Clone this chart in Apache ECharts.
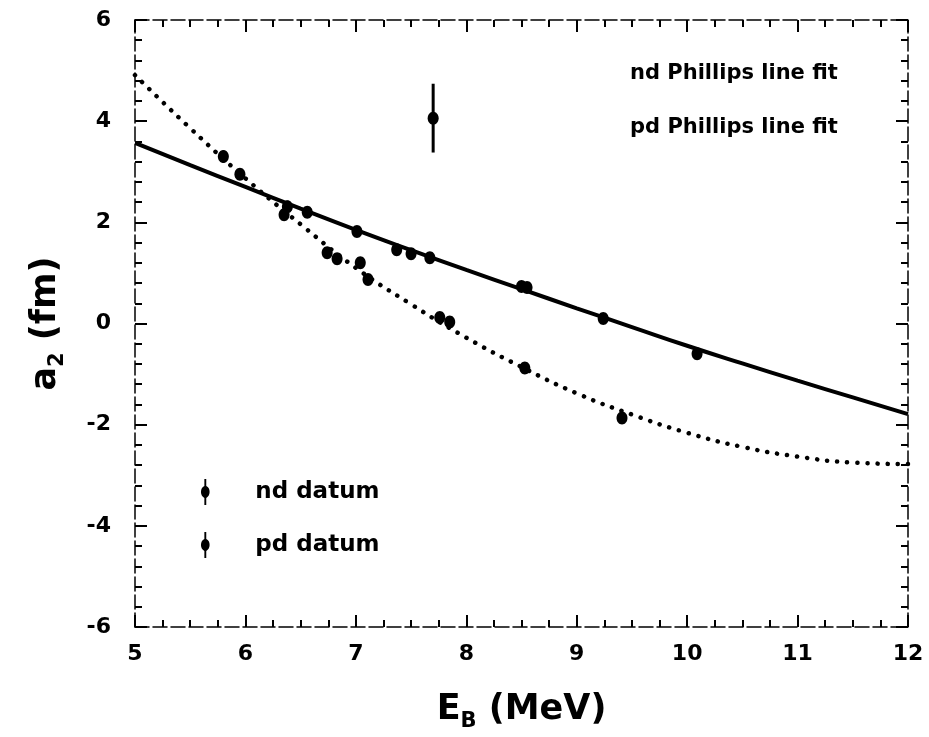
<!DOCTYPE html>
<html>
<head>
<meta charset="utf-8">
<script src="https://cdn.jsdelivr.net/npm/echarts@6/dist/echarts.min.js"></script>
<style>
  html, body { margin: 0; padding: 0; background: #fff; }
  #chart { width: 929px; height: 737px; }
</style>
</head>
<body>
<div id="chart"></div>
<script>
// fit curves (E_B in MeV, a2 in fm)
var ndFitE = [5, 5.5, 6, 6.5, 7, 7.5, 8, 8.5, 9, 9.5, 10, 10.5, 11, 11.5, 12]
var ndFitA = [3.57, 3.13, 2.70, 2.27, 1.85, 1.45, 1.06, 0.68, 0.30, -0.07, -0.44, -0.79, -1.13, -1.46, -1.79]
var pdFitE = [5, 5.5, 6, 6.5, 7, 7.5, 8, 8.5, 9, 9.5, 10, 10.5, 11, 11.5, 12]
var pdFitA = [4.91, 3.86, 2.87, 1.96, 1.10, 0.38, -0.28, -0.86, -1.38, -1.80, -2.16, -2.44, -2.63, -2.75, -2.78]

// data points with error bars
var ndE = [6.38, 6.56, 7.01, 7.37, 7.5, 7.67, 8.5, 8.55, 9.24, 10.09]
var ndA = [2.31, 2.2, 1.82, 1.46, 1.38, 1.3, 0.73, 0.71, 0.1, -0.6]
var ndErr = [0.12, 0.05, 0.06, 0.06, 0.05, 0.06, 0.08, 0.06, 0.06, 0.06]

var pdE = [5.8, 5.95, 6.35, 6.74, 6.83, 7.04, 7.11, 7.76, 7.85, 8.53, 9.41, 7.7]
var pdA = [3.3, 2.95, 2.15, 1.4, 1.28, 1.2, 0.87, 0.12, 0.03, -0.88, -1.87, 4.06]
var pdErr = [0.12, 0.08, 0.1, 0.1, 0.08, 0.08, 0.08, 0.08, 0.08, 0.06, 0.06, 0.68]

var xTicks = [5, 12, 1]
var yTicks = [-6, 6, 2]

function zip(a, b, c) {
  return a.map(function (v, i) { return c ? [v, b[i], c[i]] : [v, b[i]] })
}

var errIcon = 'path://M4.2,0H5.8V6C9.6,7.5 9.6,14.5 5.8,16V22H4.2V16C0.4,14.5 0.4,7.5 4.2,6Z'

function renderErr(params, api) {
  var x = api.value(0), y = api.value(1), e = api.value(2)
  var c = api.coord([x, y])
  var top = api.coord([x, y + e])
  var bot = api.coord([x, y - e])
  return {
    type: 'group',
    children: [
      { type: 'line', shape: { x1: c[0], y1: top[1], x2: c[0], y2: bot[1] },
        style: { stroke: '#000', lineWidth: 3 } },
      { type: 'ellipse', shape: { cx: c[0], cy: c[1], rx: 5.5, ry: 6.5 },
        style: { fill: '#000' } }
    ]
  }
}

var font = 'DejaVu Sans'
var axisCommon = {
  axisLine: { show: true, onZero: false, lineStyle: { color: '#000', width: 1.5, type: [14, 4] } },
  axisTick: { show: true, inside: true, length: 12, lineStyle: { color: '#000', width: 2 } },
  minorTick: { show: true, length: 7, lineStyle: { color: '#000', width: 2 } },
  splitLine: { show: false }
}

function xAxis(pos, labels) {
  return Object.assign({}, axisCommon, {
    type: 'value', position: pos,
    min: xTicks[0], max: xTicks[1], interval: xTicks[2],
    minorTick: Object.assign({}, axisCommon.minorTick, { splitNumber: 4 }),
    axisLabel: { show: labels, margin: 16, color: '#000', fontFamily: font, fontWeight: 'bold', fontSize: 22 }
  })
}
function yAxis(pos, labels) {
  return Object.assign({}, axisCommon, {
    type: 'value', position: pos,
    min: yTicks[0], max: yTicks[1], interval: yTicks[2],
    minorTick: Object.assign({}, axisCommon.minorTick, { splitNumber: 5 }),
    axisLabel: { show: labels, margin: 24, color: '#000', fontFamily: font, fontWeight: 'bold', fontSize: 22 }
  })
}

var nameStyle = {
  rich: {
    m: { fontFamily: font, fontWeight: 'bold', fontSize: 35, color: '#000' },
    s: { fontFamily: font, fontWeight: 'bold', fontSize: 21, color: '#000', padding: [24, 0, 0, 0] }
  }
}
var xBottom = xAxis('bottom', true)
xBottom.name = '{m|E}{s|B}{m| (MeV)}'
xBottom.nameLocation = 'middle'
xBottom.nameGap = 60
xBottom.nameTextStyle = nameStyle
var yLeft = yAxis('left', true)
yLeft.name = '{m|a}{s|2}{m| (fm)}'
yLeft.nameLocation = 'middle'
yLeft.nameGap = 67
yLeft.nameTextStyle = nameStyle

var chart = echarts.init(document.getElementById('chart'))
chart.setOption({
  animation: false,
  backgroundColor: '#fff',
  grid: { left: 135, right: 21, top: 20, bottom: 109 },
  xAxis: [xBottom, xAxis('top', false)],
  yAxis: [yLeft, yAxis('right', false)],
  legend: [
    {
      orient: 'vertical', left: 619, top: 58, itemGap: 33,
      itemWidth: 1, itemHeight: 10, icon: 'none',
      textStyle: { fontFamily: font, fontWeight: 'bold', fontSize: 21, color: '#000' },
      data: ['nd Phillips line fit', 'pd Phillips line fit']
    },
    {
      orient: 'vertical', left: 196, top: 474, itemGap: 27,
      itemWidth: 14, itemHeight: 26, icon: errIcon,
      itemStyle: { color: '#000' },
      textStyle: { fontFamily: font, fontWeight: 'bold', fontSize: 23, color: '#000', padding: [0, 0, 0, 38] },
      data: ['nd datum', 'pd datum']
    }
  ],
  series: [
    {
      name: 'nd Phillips line fit', type: 'line', smooth: true, showSymbol: false,
      color: '#000', lineStyle: { color: '#000', width: 4 },
      data: zip(ndFitE, ndFitA)
    },
    {
      name: 'pd Phillips line fit', type: 'line', smooth: true, showSymbol: false,
      color: '#000', lineStyle: { color: '#000', width: 4.5, type: [0.1, 10], cap: 'round' },
      data: zip(pdFitE, pdFitA)
    },
    {
      name: 'nd datum', type: 'custom', color: '#000',
      renderItem: renderErr, data: zip(ndE, ndA, ndErr)
    },
    {
      name: 'pd datum', type: 'custom', color: '#000',
      renderItem: renderErr, data: zip(pdE, pdA, pdErr)
    }
  ]
})
</script>
</body>
</html>
